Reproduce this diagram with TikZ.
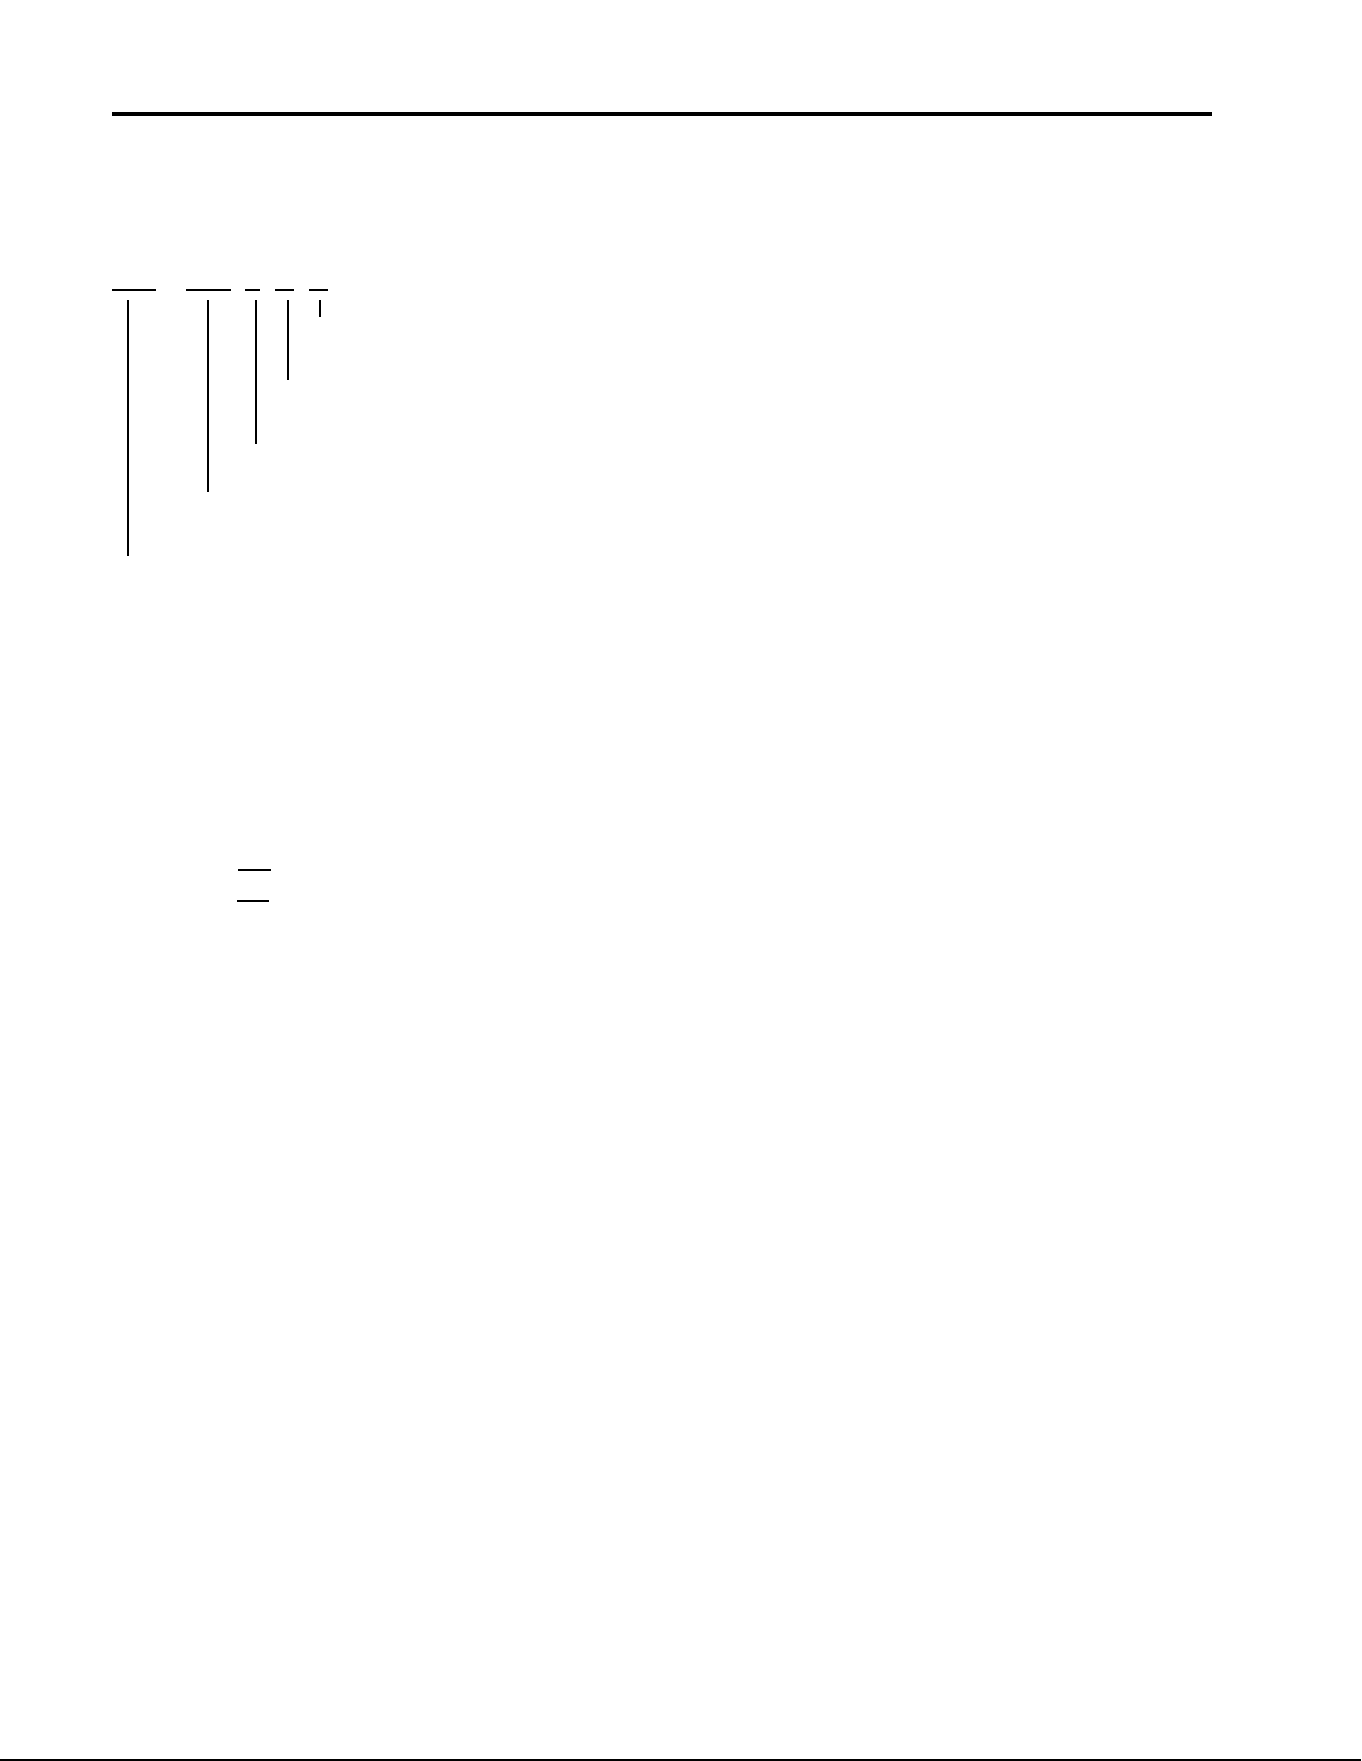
\documentclass[tikz,border=0pt]{standalone}
\begin{document}
\begin{tikzpicture}[x=1pt,y=-1pt,
  rule/.style={line width=4.2pt},
  bar/.style={line width=2.7pt},
  stem/.style={line width=2pt},
  tick/.style={line width=2pt},
  edge/.style={line width=1.5pt}]
\useasboundingbox[fill=white] (0,0) rectangle (1361,1761);
% top rule
\draw[rule] (112,114) -- (1212,114);
% bars
\draw[bar] (112,290) -- (156,290);
\draw[bar] (186,290) -- (231,290);
\draw[bar] (245,290) -- (260,290);
\draw[bar] (275,290) -- (294,290);
\draw[bar] (309,290) -- (328,290);
% stems
\draw[stem] (127.7,300) -- (127.7,556);
\draw[stem] (207.7,300) -- (207.7,492);
\draw[stem] (256,300) -- (256,444);
\draw[stem] (288,300) -- (288,380);
\draw[stem] (319.7,300) -- (319.7,317);
% small ticks
\draw[tick] (238,869.7) -- (270.7,869.7);
\draw[tick] (237,900.7) -- (268.7,900.7);
% bottom edge
\draw[edge] (0,1760.2) -- (1361,1760.2);
\end{tikzpicture}
\end{document}
